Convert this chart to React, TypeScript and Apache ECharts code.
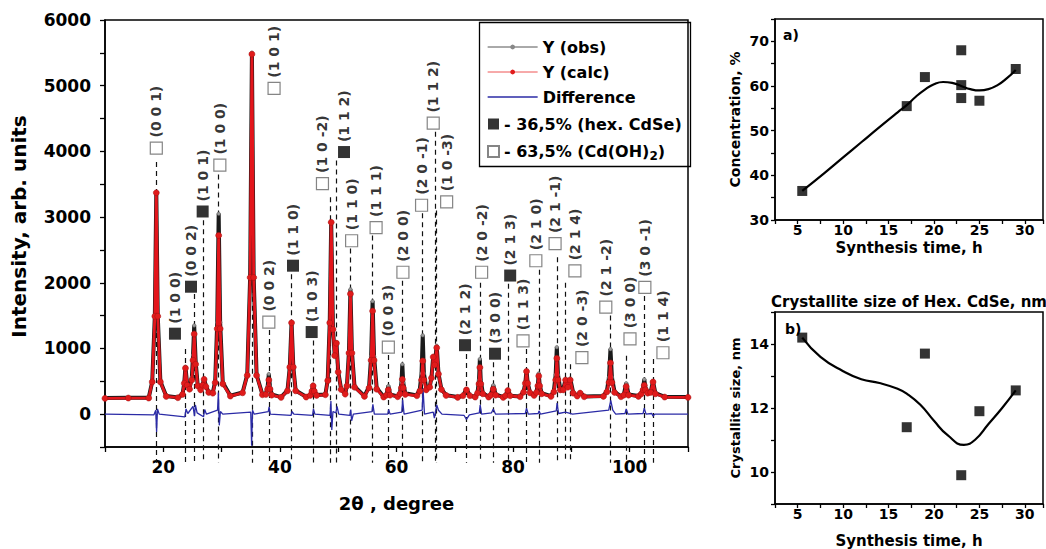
import React, { useEffect, useRef } from "react";
import * as echarts from "echarts";

// ---------- main XRD pattern ----------
const twoTheta = [
  10, 14, 17.5, 18.1, 18.55, 18.8, 19.05, 19.5, 20.5, 22.5, 23.3, 23.6, 23.8, 24.1, 24.5, 24.9, 25.1, 25.3, 25.55, 25.9,
  26.4, 26.75, 27.0, 27.3, 27.8, 28.5, 28.9, 29.25, 29.5, 29.75, 30.2, 31.5, 33.6, 34.4, 34.9, 35.2, 35.5, 36.0, 37.0, 37.6,
  37.9, 38.1, 38.3, 38.6, 40.2, 41.3, 41.7, 42.0, 42.3, 42.7, 44.5, 45.2, 45.5, 45.7, 45.9, 46.3, 47.8, 48.2, 48.55, 48.8,
  49.1, 49.4, 49.7, 50.0, 50.5, 51.2, 51.5, 51.85, 52.1, 52.35, 52.8, 54.5, 55.3, 55.65, 55.9, 56.15, 56.6, 57.8, 58.3, 58.6,
  58.9, 60.2, 60.6, 60.85, 61.0, 61.15, 61.5, 63.5, 64.0, 64.3, 64.5, 64.7, 65.1, 65.7, 66.0, 66.3, 66.55, 66.9, 67.2, 67.7,
  68.5, 70.5, 71.4, 72.0, 72.6, 73.5, 73.9, 74.15, 74.3, 74.45, 74.8, 75.8, 76.2, 76.6, 77.0, 78.3, 78.7, 79.1, 79.5, 81.2,
  81.8, 82.1, 82.3, 82.5, 82.9, 83.6, 84.0, 84.25, 84.4, 84.55, 84.9, 86.5, 87.0, 87.3, 87.5, 87.7, 88.1, 88.6, 89.0, 89.4,
  89.8, 90.3, 91.0, 91.5, 92.2, 95.5, 96.1, 96.45, 96.7, 96.95, 97.4, 98.5, 99.0, 99.4, 99.8, 101.5, 102.0, 102.3, 102.5, 102.7,
  103.1, 103.6, 104.0, 104.4, 106, 110,
];
const obsY = [
  245, 250, 250, 496, 1499, 3380, 1499, 496, 275, 255, 300, 480, 720, 450, 390, 560, 900, 1350, 800, 440,
  380, 450, 540, 430, 330, 330, 500, 1400, 3050, 1400, 480, 280, 330, 600, 2100, 5500, 2100, 600, 300, 310,
  420, 610, 420, 300, 260, 360, 720, 1400, 720, 360, 265, 290, 360, 450, 360, 290, 300, 520, 1400, 2930,
  1300, 900, 1090, 650, 380, 310, 440, 960, 1900, 960, 420, 275, 420, 880, 1720, 880, 400, 265, 300, 430,
  300, 270, 330, 480, 760, 480, 320, 285, 380, 620, 1200, 620, 400, 420, 560, 880, 760, 1040, 620, 380,
  290, 260, 280, 380, 280, 265, 330, 520, 840, 520, 320, 265, 300, 440, 300, 260, 280, 370, 280, 270,
  340, 480, 660, 480, 330, 290, 340, 450, 620, 450, 320, 275, 360, 600, 1020, 600, 380, 380, 530, 420,
  540, 330, 280, 330, 270, 275, 360, 560, 990, 560, 340, 270, 300, 470, 300, 275, 320, 400, 530, 400,
  330, 340, 500, 320, 265, 260,
];
const calcY = [
  240, 245, 245, 490, 1490, 3370, 1490, 490, 270, 250, 300, 470, 700, 440, 380, 520, 820, 1220, 760, 430,
  370, 440, 530, 420, 330, 320, 480, 1300, 2720, 1300, 460, 275, 325, 590, 2080, 5480, 2080, 590, 295, 300,
  380, 520, 380, 290, 255, 355, 715, 1390, 715, 355, 260, 285, 350, 430, 350, 285, 295, 510, 1390, 2920,
  1290, 890, 1080, 640, 375, 305, 430, 930, 1830, 930, 410, 270, 400, 820, 1570, 820, 380, 260, 290, 370,
  290, 265, 310, 400, 530, 400, 300, 280, 350, 520, 810, 520, 370, 410, 550, 870, 750, 1010, 610, 375,
  285, 255, 280, 370, 280, 260, 320, 460, 710, 460, 310, 260, 290, 380, 290, 255, 280, 360, 280, 265,
  335, 470, 650, 470, 325, 285, 330, 430, 580, 430, 310, 270, 340, 520, 850, 520, 370, 370, 520, 410,
  520, 320, 275, 320, 265, 270, 340, 480, 780, 480, 330, 265, 290, 420, 290, 270, 310, 370, 440, 370,
  320, 330, 490, 310, 260, 255,
];
const diffX = [
  10, 18.4, 18.7, 18.85, 19.0, 19.3, 23.7, 23.9, 24.2, 25.1, 25.35, 25.5, 25.8, 26.9, 27.1, 27.4, 29.3, 29.45, 29.6, 29.8,
  30.2, 35.0, 35.15, 35.3, 35.6, 38.0, 38.15, 38.35, 41.9, 42.1, 42.4, 45.6, 45.75, 46.0, 48.6, 48.75, 48.9, 49.1, 49.6, 49.8,
  50.1, 52.0, 52.15, 52.3, 52.6, 55.8, 55.95, 56.2, 58.5, 58.65, 58.9, 60.9, 61.05, 61.3, 64.4, 64.55, 64.8, 66.3, 66.5, 66.9,
  67.2, 67.8, 71.6, 72.0, 72.5, 74.2, 74.35, 74.6, 76.3, 76.6, 77.0, 82.1, 82.3, 82.6, 84.3, 84.45, 84.7, 87.4, 87.55, 87.8,
  89.0, 90.2, 96.4, 96.75, 97.1, 97.6, 99.2, 99.4, 99.7, 102.3, 102.5, 102.8, 103.8, 104.0, 104.3, 110,
];
const diffY = [
  0, -10, 60, -270, 80, 0, -40, 80, 10, 120, -30, 140, 20, -40, 70, 0, 60, 330, -170, 40,
  0, 30, -480, 60, 0, 40, 110, 0, -20, 40, 0, -20, 80, 0, -20, 200, -240, 40, 20, 120,
  0, -20, 70, -100, 0, 40, 150, 0, 0, 70, 0, 30, 220, 0, 60, 390, 0, 30, -60, 140,
  60, 0, -20, -80, -10, 20, 140, 0, 20, 80, 0, 10, 90, 0, 10, 50, 0, 50, 170, 10,
  30, 0, 60, 210, 60, 0, 10, 80, 0, 10, 90, 0, 10, -30, 0, 0,
];

// reflections: [line 2θ, line top, marker 2θ, marker intensity, hkl]
const hexCdSe: [number, number, number, number, string][] = [
  [23.8, 990, 22.0, 1225, "(1 0 0)"],
  [25.3, 1830, 24.75, 1940, "(0 0 2)"],
  [26.9, 2950, 26.75, 3085, "(1 0 1)"],
  [42.0, 2130, 42.25, 2260, "(1 1 0)"],
  [45.7, 1120, 45.45, 1250, "(1 0 3)"],
  [49.7, 3860, 51.0, 3990, "(1 1 2)"],
  [72.0, 915, 71.75, 1050, "(2 1 2)"],
  [76.6, 790, 76.9, 920, "(3 0 0)"],
  [79.1, 1985, 79.5, 2110, "(2 1 3)"],
];
const cdOH2: [number, number, number, number, string][] = [
  [18.8, 3840, 18.8, 4050, "(0 0 1)"],
  [29.5, 3650, 29.7, 3790, "(1 0 0)"],
  [35.3, 4800, 39.0, 4960, "(1 0 1)"],
  [38.1, 1280, 38.1, 1400, "(0 0 2)"],
  [48.7, 3300, 47.3, 3510, "(1 0 -2)"],
  [52.1, 2520, 52.3, 2640, "(1 1 0)"],
  [55.9, 2720, 56.5, 2840, "(1 1 1)"],
  [58.6, 900, 58.6, 1020, "(0 0 3)"],
  [61.0, 2030, 61.1, 2160, "(2 0 0)"],
  [64.5, 3060, 64.3, 3180, "(2 0 -1)"],
  [66.6, 4300, 66.3, 4430, "(1 1 2)"],
  [66.9, 3100, 68.6, 3230, "(1 0 -3)"],
  [74.3, 2000, 74.6, 2160, "(2 0 -2)"],
  [82.3, 990, 81.7, 1115, "(1 1 3)"],
  [84.4, 2200, 83.9, 2335, "(2 1 0)"],
  [87.5, 2390, 87.2, 2595, "(2 1 -1)"],
  [89.0, 2000, 90.6, 2180, "(2 1 4)"],
  [89.8, 760, 91.8, 860, "(2 0 -3)"],
  [96.7, 1500, 95.9, 1630, "(2 1 -2)"],
  [99.4, 890, 100.05, 1145, "(3 0 0)"],
  [102.5, 1800, 102.6, 1930, "(3 0 -1)"],
  [104.0, 840, 105.7, 935, "(1 1 4)"],
];
const lineBottom = -740;

// ---------- panel a) ----------
const concTime = [5.5, 17, 19, 23, 23, 23, 25, 29];
const concValue = [36.5, 55.5, 62, 68, 60.2, 57.3, 56.7, 63.8];
const concFitTime = [5.5, 8, 10, 12, 14, 16, 17, 18, 19, 20, 21, 22, 23, 24, 25, 26, 27, 28, 29];
const concFitValue = [36.5, 40.6, 44, 47.4, 50.8, 54.1, 55.7, 57.6, 59.2, 60.4, 60.9, 60.7, 60.0, 59.3, 59.0, 59.3, 60.2, 61.7, 63.6];

// ---------- panel b) ----------
const sizeTime = [5.5, 17, 19, 23, 25, 29];
const sizeValue = [14.2, 11.4, 13.7, 9.9, 11.9, 12.55];
const sizeFitTime = [5.5, 7.5, 10, 12, 14, 16, 17, 18.5, 20, 21.5, 23.3, 24.5, 26, 27.5, 29];
const sizeFitValue = [14.2, 13.6, 13.15, 12.9, 12.78, 12.6, 12.45, 12.1, 11.6, 11.15, 10.85, 11.0, 11.5, 12.0, 12.55];

const FONT = '"DejaVu Sans", "Liberation Sans", sans-serif';
const HEX_NAME = "- 36,5% (hex. CdSe)";
const CD_NAME = "- 63,5% (Cd(OH)2)";

const txt = (size: number) => ({ fontFamily: FONT, fontWeight: "bold" as const, fontSize: size, color: "#000" });

export default function App() {
  const ref = useRef<HTMLDivElement>(null);
  useEffect(() => {
    if (!ref.current) return;
    const chart = echarts.init(ref.current, undefined, { renderer: "svg" });

    const axisLine = { show: true, onZero: false, lineStyle: { color: "#000", width: 1.5 } };
    const axisTick = { show: true, inside: false, length: 5, lineStyle: { color: "#000", width: 1.3 } };

    const reflLabel = {
      show: true,
      position: "top" as const,
      rotate: 90,
      align: "left" as const,
      verticalAlign: "middle" as const,
      distance: 4,
      ...txt(14),
      formatter: (p: any) => p.data[2],
    };

    const option: any = {
      animation: false,
      backgroundColor: "#fff",
      textStyle: { fontFamily: FONT },
      title: [
        { text: "Crystallite size of Hex. CdSe, nm", left: 904, top: 289, textAlign: "center", textStyle: txt(15) },
        { text: "a)", left: 778, top: 23, textStyle: txt(14) },
        { text: "b)", left: 780, top: 317, textStyle: txt(14) },
      ],
      grid: [
        { left: 105, top: 20, width: 583, height: 427, show: true, borderColor: "#000", borderWidth: 1.5, backgroundColor: "transparent" },
        { left: 775, top: 19, width: 271, height: 201, show: true, borderColor: "#000", borderWidth: 1.5, backgroundColor: "transparent" },
        { left: 775, top: 312, width: 271, height: 195, show: true, borderColor: "#000", borderWidth: 1.5, backgroundColor: "transparent" },
      ],
      xAxis: [
        {
          gridIndex: 0, type: "value", min: 10, max: 110, interval: 10,
          axisLine, axisTick, splitLine: { show: false },
          axisLabel: { ...txt(17), margin: 11, formatter: (v: number) => (v % 20 === 0 ? String(v) : "") },
          name: "2θ , degree", nameLocation: "middle", nameGap: 47, nameTextStyle: txt(18),
        },
        {
          gridIndex: 1, type: "value", min: 2.5, max: 32, interval: 2.5,
          axisLine, axisTick: { ...axisTick, length: 4 }, splitLine: { show: false },
          axisLabel: { ...txt(14), margin: 3, formatter: (v: number) => (v % 5 === 0 ? String(v) : "") },
          name: "Synthesis time, h", nameLocation: "middle", nameGap: 20, nameTextStyle: txt(15),
        },
        {
          gridIndex: 2, type: "value", min: 2.5, max: 32, interval: 2.5,
          axisLine, axisTick: { ...axisTick, length: 4 }, splitLine: { show: false },
          axisLabel: { ...txt(14), margin: 3, formatter: (v: number) => (v % 5 === 0 ? String(v) : "") },
          name: "Synthesis time, h", nameLocation: "middle", nameGap: 29, nameTextStyle: txt(15),
        },
      ],
      yAxis: [
        {
          gridIndex: 0, type: "value", min: -500, max: 6000, interval: 500,
          axisLine, axisTick, splitLine: { show: false },
          axisLabel: { ...txt(17), margin: 14, formatter: (v: number) => (v % 1000 === 0 ? String(v) : "") },
          name: "Intensity, arb. units", nameLocation: "middle", nameRotate: 90, nameGap: 76,
          nameTextStyle: { ...txt(20), padding: [0, 0, 0, 14] },
        },
        {
          gridIndex: 1, type: "value", min: 30, max: 75, interval: 5,
          axisLine, axisTick: { ...axisTick, length: 4 }, splitLine: { show: false },
          axisLabel: { ...txt(14), margin: 6, formatter: (v: number) => (v % 10 === 0 ? String(v) : "") },
          name: "Concentration, %", nameLocation: "middle", nameRotate: 90, nameGap: 33, nameTextStyle: txt(14),
        },
        {
          gridIndex: 2, type: "value", min: 9, max: 15, interval: 1,
          axisLine, axisTick: { ...axisTick, length: 4 }, splitLine: { show: false },
          axisLabel: { ...txt(14), margin: 6, formatter: (v: number) => (v % 2 === 0 ? String(v) : "") },
          name: "Crystallite size, nm", nameLocation: "middle", nameRotate: 90, nameGap: 33, nameTextStyle: txt(13),
        },
      ],
      legend: [
        {
          data: [
            { name: "Y (obs)", lineStyle: { color: "#555", width: 1 }, itemStyle: { color: "#888", borderWidth: 0 } },
            { name: "Y (calc)", lineStyle: { color: "#e55", width: 1 }, itemStyle: { color: "#e01b1b", borderWidth: 0 } },
            { name: "Difference", lineStyle: { color: "#2b2ba6", width: 1.3 }, itemStyle: { opacity: 0 } },
          ],
          orient: "vertical", left: 487, top: 38, padding: 0, itemWidth: 50, itemHeight: 6, itemGap: 7,
          selectedMode: false, textStyle: { ...txt(16), lineHeight: 18 },
        },
        {
          data: [HEX_NAME, CD_NAME],
          orient: "vertical", left: 487, top: 115, padding: 0, itemWidth: 11, itemHeight: 11, itemGap: 8,
          selectedMode: false,
          textStyle: {
            ...txt(16), lineHeight: 18,
            rich: {
              t: { ...txt(16), lineHeight: 18 },
              s: { ...txt(12), lineHeight: 18, padding: [9, 0, 0, 0] },
            },
          },
          formatter: (name: string) => (name === CD_NAME ? "{t|- 63,5% (Cd(OH)}{s|2}{t|)}" : name),
        },
      ],
      graphic: [
        { type: "rect", left: 477, top: 20, shape: { width: 211, height: 144 }, style: { fill: "none", stroke: "#000", lineWidth: 1.3 }, z: 10 },
      ],
      series: [
        {
          type: "lines", coordinateSystem: "cartesian2d", xAxisIndex: 0, yAxisIndex: 0,
          polyline: false, clip: false, silent: true, z: 1,
          lineStyle: { color: "#111", width: 1.2, type: [5, 4], opacity: 1 },
          data: [...hexCdSe, ...cdOH2].map((r) => ({ coords: [[r[0], r[1]], [r[0], lineBottom]] })),
        },
        {
          name: "Y (obs)", type: "line", xAxisIndex: 0, yAxisIndex: 0, z: 2,
          data: twoTheta.map((x, i) => [x, obsY[i]]),
          lineStyle: { color: "#1a1a1a", width: 4 },
          symbol: "circle", symbolSize: 3.5, showSymbol: true,
          itemStyle: { color: "#999", borderColor: "#555", borderWidth: 0.6 },
        },
        {
          name: "Y (calc)", type: "line", xAxisIndex: 0, yAxisIndex: 0, z: 3,
          data: twoTheta.map((x, i) => [x, calcY[i]]),
          lineStyle: { color: "#e3151b", width: 2.8 },
          symbol: "circle", symbolSize: 6, showSymbol: true,
          itemStyle: { color: "#e01b1b", borderColor: "#a01010", borderWidth: 0.5 },
        },
        {
          name: "Difference", type: "line", xAxisIndex: 0, yAxisIndex: 0, z: 3,
          data: diffX.map((x, i) => [x, diffY[i]]),
          lineStyle: { color: "#2b2ba6", width: 1.3 }, itemStyle: { color: "#2b2ba6" },
          symbol: "none", showSymbol: false,
        },
        {
          name: HEX_NAME, type: "scatter", xAxisIndex: 0, yAxisIndex: 0, z: 5,
          symbol: "rect", symbolSize: 12,
          itemStyle: { color: "#000" },
          label: reflLabel,
          data: hexCdSe.map((r) => [r[2], r[3], r[4]]),
        },
        {
          name: CD_NAME, type: "scatter", xAxisIndex: 0, yAxisIndex: 0, z: 5,
          symbol: "rect", symbolSize: 12,
          itemStyle: { color: "#fff", borderColor: "#666", borderWidth: 1.2 },
          label: reflLabel,
          data: cdOH2.map((r) => [r[2], r[3], r[4]]),
        },
        {
          type: "line", xAxisIndex: 1, yAxisIndex: 1, smooth: 0.5, symbol: "none",
          lineStyle: { color: "#000", width: 2.2 },
          data: concFitTime.map((x, i) => [x, concFitValue[i]]),
        },
        {
          type: "scatter", xAxisIndex: 1, yAxisIndex: 1, symbol: "rect", symbolSize: 10,
          itemStyle: { color: "#000" },
          data: concTime.map((x, i) => [x, concValue[i]]),
        },
        {
          type: "line", xAxisIndex: 2, yAxisIndex: 2, smooth: 0.5, symbol: "none",
          lineStyle: { color: "#000", width: 2.2 },
          data: sizeFitTime.map((x, i) => [x, sizeFitValue[i]]),
        },
        {
          type: "scatter", xAxisIndex: 2, yAxisIndex: 2, symbol: "rect", symbolSize: 10,
          itemStyle: { color: "#000" },
          data: sizeTime.map((x, i) => [x, sizeValue[i]]),
        },
      ],
    };
    chart.setOption(option);
    return () => chart.dispose();
  }, []);

  return (
    <div
      ref={ref}
      style={{ position: "fixed", left: 0, top: 0, width: 1046, height: 549, background: "#fff" }}
    />
  );
}
